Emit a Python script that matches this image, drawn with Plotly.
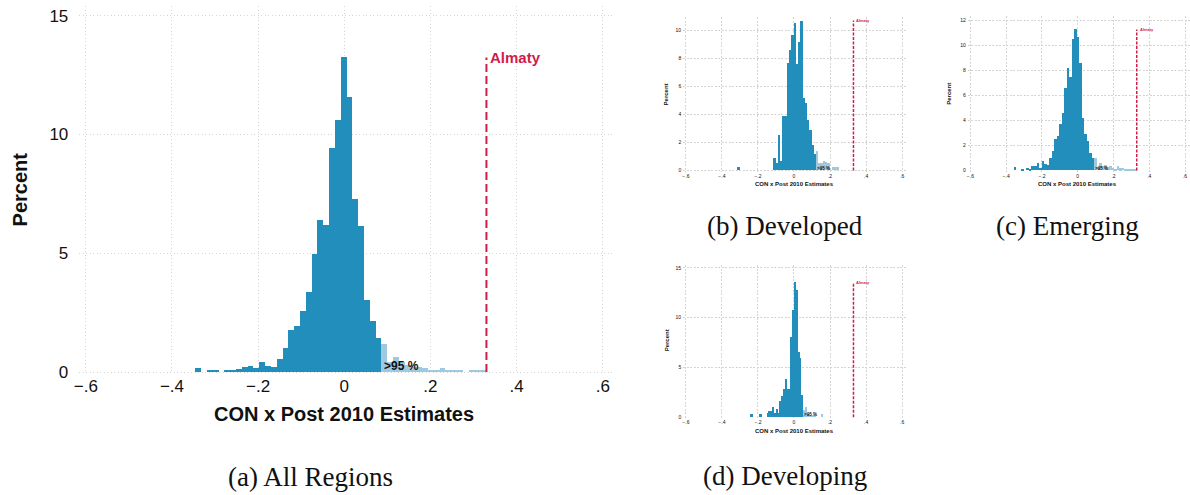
import numpy as np
import plotly.graph_objects as go

W, H = 1190, 495

# ---------------- data ----------------
almaty = 0.33
x_tick_vals = [-0.6, -0.4, -0.2, 0, 0.2, 0.4, 0.6]
x_tick_text = ["\u2212.6", "\u2212.4", "\u2212.2", "0", ".2", ".4", ".6"]

# (a) All Regions
a_bin_w = 0.0135
a_dark_start = -0.345
a_dark = [0.15, 0, 0.05, 0.05, 0, 0.05, 0.05, 0.14, 0.19, 0.26, 0.15, 0.43, 0.23, 0.19,
          0.55, 1.0, 1.76, 1.95, 2.57, 3.35, 4.96, 6.40, 6.19, 9.41, 10.62, 13.24, 11.55,
          7.29, 6.15, 3.02, 2.13, 1.41]
a_light = [1.17, 0.40, 0.63, 0.40, 0.27, 0.20, 0.22, 0.15, 0.07, 0.07, 0.15, 0.06, 0.06,
           0.06, 0, 0.06, 0.06, 0.06]
a_yticks = [0, 5, 10, 15]

# (b) Developed
b_bin_w = 0.0125
b_dark_start = -0.314
b_dark = [0.23, 0, 0, 0, 0, 0, 0, 0, 0, 0, 0, 0, 0, 0, 0, 0,
          0.9, 0.5, 2.5, 0.7, 3.9, 3.9, 7.7, 8.6, 9.7, 10.5, 7.6, 9.2, 10.7, 5.2, 4.8,
          3.6, 2.9, 1.8, 1.2]
b_light = [1.4, 0.5, 0.55, 0.7, 0.6, 0.5, 0, 0.25, 0.25, 0.25]
b_yticks = [0, 2, 4, 6, 8, 10]

# (c) Emerging
c_bin_w = 0.014
c_dark_start = -0.358
c_dark = [0.24, 0, 0, 0.08, 0, 0.16, 0.08, 0.31, 0.31, 0.55, 0.21, 0.7, 0.5, 0.42, 1.0,
          1.5, 2.5, 2.75, 3.7, 4.6, 6.6, 8.2, 7.5, 10.5, 11.3, 10.65, 8.6, 4.2, 2.9,
          2.35, 1.34, 1.0]
c_light = [1.0, 0.24, 0.55, 0.3, 0.4, 0.25, 0.3, 0.2, 0.1, 0.3, 0.15, 0.2, 0.1, 0.1,
           0.05, 0.05, 0.05]
c_yticks = [0, 2, 4, 6, 8, 10, 12]

# (d) Developing
d_bin_w = 0.01
d_dark_start = -0.238
d_dark = [0.26, 0, 0, 0, 0, 0.26, 0, 0, 0,
          0.43, 0.65, 0.65, 1.0, 0.43, 0.8, 0.4, 1.6, 2.1, 2.8, 3.8, 2.8, 2.8, 8.0,
          10.75, 13.5, 12.7, 6.5, 5.9, 2.2]
d_light = [0.75, 1.0, 0.3, 0.25, 0.2, 0.1, 0.1, 0, 0, 0, 0.26]
d_yticks = [0, 5, 10, 15]

captions = ["(a) All Regions", "(b) Developed", "(c) Emerging", "(d) Developing"]
x_title = "CON x Post 2010 Estimates"
y_title = "Percent"
pct_label = ">95 %"
line_label = "Almaty"

# ---------------- style ----------------
DARK = "#218EBC"
LIGHT = "#9ECAE1"
RED = "#D01C4B"
GRID = "#D4D4D4"
SANS = "Liberation Sans, Arial, sans-serif"
SERIF = "Liberation Serif, Times New Roman, serif"


def px(x):
    return x / W


def py(y):
    return 1 - y / H


panels = [
    dict(start=a_dark_start, w=a_bin_w, dark=a_dark, light=a_light, yticks=a_yticks,
         xdom=(73.7, 610.6), ydom=(5.3, 380.4), yr=(-0.1, 15.4),
         tick=17, title=20, lab=15, pct=12, standoff_y=10, standoff_x=0,
         ytitle_xy=(14, 192), xtitle_xy=(340, 421), cap_xy=(306, 485),
         dash=(8, 4), lw=2, gdash="1px,2.5px", gw=1.2),
    dict(start=b_dark_start, w=b_bin_w, dark=b_dark, light=b_light, yticks=b_yticks,
         xdom=(680.6, 905.2), ydom=(16.4, 173.8), yr=(-0.08, 10.95),
         tick=5, title=6, lab=4, pct=4.5, standoff_y=1, standoff_x=0,
         ytitle_xy=(663.5, 95), xtitle_xy=(792.5, 186), cap_xy=(782.5, 229),
         dash=(3, 1.5), lw=1.5, gdash="2px,1.5px", gw=1),
    dict(start=c_dark_start, w=c_bin_w, dark=c_dark, light=c_light, yticks=c_yticks,
         xdom=(966.6, 1189.5), ydom=(15.6, 173.7), yr=(-0.08, 12.35),
         tick=5, title=6, lab=4, pct=4.5, standoff_y=1, standoff_x=0,
         ytitle_xy=(948.3, 95), xtitle_xy=(1077.3, 186), cap_xy=(1067, 229),
         dash=(3, 1.5), lw=1.5, gdash="2px,1.5px", gw=1),
    dict(start=d_dark_start, w=d_bin_w, dark=d_dark, light=d_light, yticks=d_yticks,
         xdom=(680.6, 905.2), ydom=(269.2, 424.8), yr=(-0.08, 15.25),
         tick=5, title=6, lab=4, pct=4.5, standoff_y=1, standoff_x=0,
         ytitle_xy=(664, 346), xtitle_xy=(792, 438), cap_xy=(782.5, 484),
         dash=(3, 1.5), lw=1.5, gdash="2px,1.5px", gw=1),
]

fig = go.Figure()
annotations = []
layout_axes = {}

for i, p in enumerate(panels):
    k = "" if i == 0 else str(i + 1)
    xa, ya = "x" + k, "y" + k
    w = p["w"]
    dark = np.array(p["dark"], dtype=float)
    light = np.array(p["light"], dtype=float)
    dark_x = p["start"] + w * (np.arange(len(dark)) + 0.5)
    light_start = p["start"] + w * len(dark)
    light_x = light_start + w * (np.arange(len(light)) + 0.5)
    top = float(max(dark.max(), light.max()))

    fig.add_trace(go.Bar(x=dark_x, y=dark, width=w, marker=dict(color=DARK, line=dict(width=0)),
                         xaxis=xa, yaxis=ya, showlegend=False, hoverinfo="skip"))
    fig.add_trace(go.Bar(x=light_x, y=light, width=w, marker=dict(color=LIGHT, line=dict(width=0)),
                         xaxis=xa, yaxis=ya, showlegend=False, hoverinfo="skip"))
    dash = "%gpx,%gpx" % p["dash"]
    fig.add_trace(go.Scatter(x=[almaty, almaty], y=[0, top], mode="lines",
                             line=dict(color=RED, width=p["lw"], dash=dash),
                             xaxis=xa, yaxis=ya, showlegend=False, hoverinfo="skip"))

    xl, xr = p["xdom"]
    yt, yb = p["ydom"]
    common = dict(ticks="", showgrid=True, gridcolor=GRID, griddash=p["gdash"],
                  gridwidth=p["gw"], zeroline=False, showline=False, fixedrange=True,
                  tickfont=dict(family=SANS, size=p["tick"], color="#111111"))
    layout_axes["xaxis" + k] = dict(
        domain=[px(xl), px(xr)], range=[-0.615, 0.625], anchor=ya,
        tickvals=x_tick_vals, ticktext=x_tick_text,
        ticklabelstandoff=p["standoff_x"], **common)
    layout_axes["yaxis" + k] = dict(
        domain=[py(yb), py(yt)], range=list(p["yr"]), anchor=xa,
        tickvals=p["yticks"], ticklabelstandoff=p["standoff_y"], **common)

    annotations.append(dict(x=almaty, y=top, xref=xa, yref=ya, text="<b>%s</b>" % line_label,
                            showarrow=False, xanchor="left", yanchor="middle",
                            xshift=2 if i == 0 else 1,
                            font=dict(family=SANS, size=p["lab"], color=RED)))
    annotations.append(dict(x=light_start, y=0, xref=xa, yref=ya, text="<b>%s</b>" % pct_label,
                            showarrow=False, xanchor="left", yanchor="bottom",
                            xshift=1 if i == 0 else 0, yshift=-2 if i == 0 else -1,
                            borderpad=0,
                            font=dict(family=SANS, size=p["pct"], color="#111111")))
    tx, ty = p["ytitle_xy"]
    annotations.append(dict(x=px(tx), y=py(ty), xref="paper", yref="paper",
                            text="<b>%s</b>" % y_title, textangle=-90, showarrow=False,
                            xanchor="center", yanchor="middle",
                            font=dict(family=SANS, size=p["title"], color="#111111")))
    tx, ty = p["xtitle_xy"]
    annotations.append(dict(x=px(tx), y=py(ty), xref="paper", yref="paper",
                            text="<b>%s</b>" % x_title, showarrow=False,
                            xanchor="center", yanchor="middle",
                            font=dict(family=SANS, size=p["title"], color="#111111")))
    tx, ty = p["cap_xy"]
    annotations.append(dict(x=px(tx), y=py(ty), xref="paper", yref="paper",
                            text=captions[i], showarrow=False,
                            xanchor="center", yanchor="middle",
                            font=dict(family=SERIF, size=27, color="#111111")))

fig.update_layout(
    width=W, height=H, margin=dict(l=0, r=0, t=0, b=0),
    paper_bgcolor="white", plot_bgcolor="white",
    barmode="overlay", bargap=0, showlegend=False,
    annotations=annotations, **layout_axes)

fig.write_html("out.html", config=dict(displayModeBar=False))
